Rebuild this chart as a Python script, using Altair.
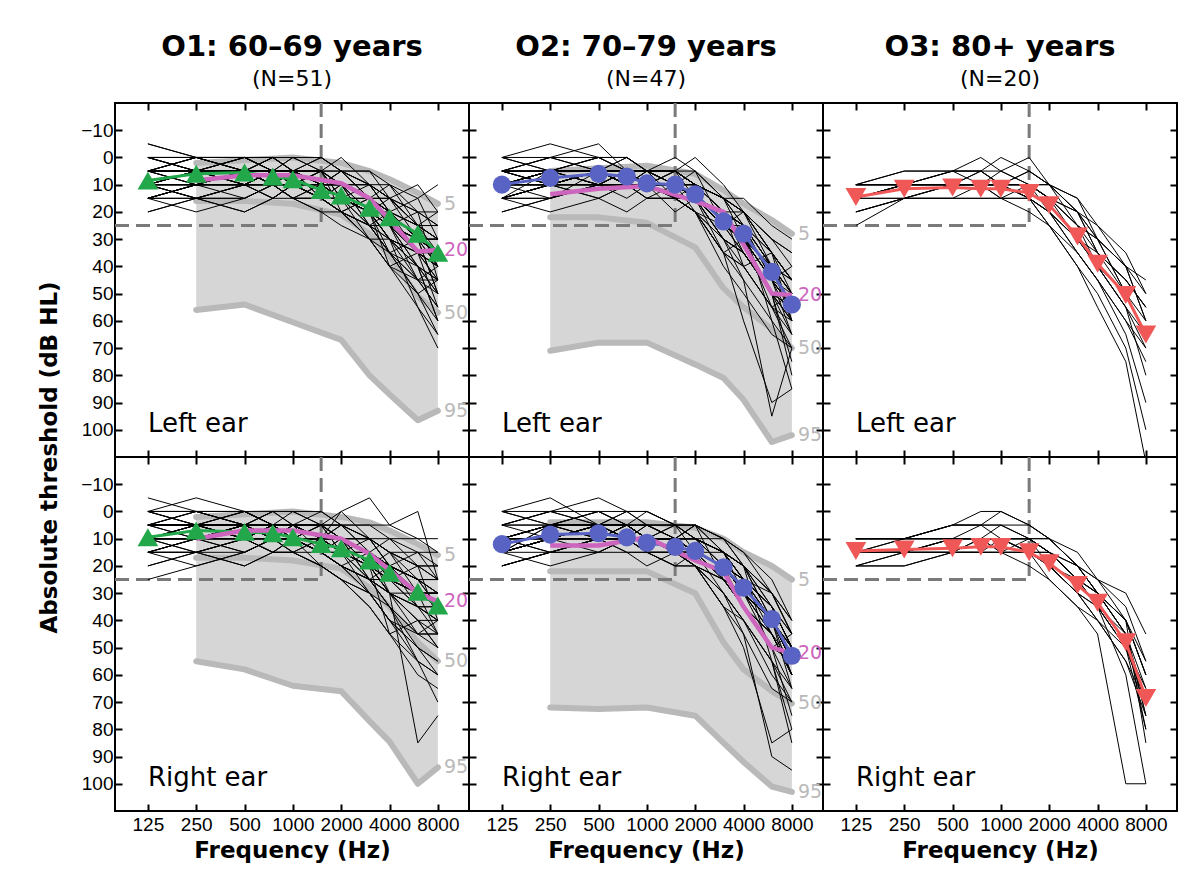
import altair as alt
import pandas as pd

FONT = "DejaVu Sans"
TICK_FONT = "Liberation Sans"

FREQS = [125, 250, 500, 750, 1000, 1500, 2000, 3000, 4000, 6000, 8000]
PCT_FREQS = [250, 500, 1000, 2000, 3000, 4000, 6000, 8000]
X_TICKS = [125, 250, 500, 1000, 2000, 4000, 8000]
Y_TICKS = [-10, 0, 10, 20, 30, 40, 50, 60, 70, 80, 90, 100]
X_DOMAIN = [78, 12500]
Y_DOMAIN = [-20, 110]
CRIT_FREQ = 1500
CRIT_DB = 25
EAR_TEXT_FREQ = 125
EAR_TEXT_DB = 98

GROUP_TITLES = ["O1: 60\u201369 years", "O2: 70\u201379 years", "O3: 80+ years"]
GROUP_N = ["(N=51)", "(N=47)", "(N=20)"]
EAR_LABELS = ["Left ear", "Right ear"]
GROUP_COLORS = ["#22a84a", "#5863c4", "#f05858"]
GROUP_SHAPES = ["triangle-up", "circle", "triangle-down"]
GROUP_SIZES = [430, 330, 430]
PINK = "#cd64be"
FILL_GRAY = "#d6d6d6"
LINE_GRAY = "#b9b9b9"
DASH_GRAY = "#7a7a7a"

# group means (dB HL) at FREQS
MEAN_O1_L = [8.5, 6, 5.5, 7, 8, 12, 14, 18.5, 22, 28, 35]
MEAN_O1_R = [9.5, 7, 7.5, 8, 9.5, 12, 13.5, 18, 22.5, 29.5, 34.5]
MEAN_O2_L = [10, 7.5, 6, 7, 9.5, 10, 13.5, 23.5, 28, 42, 54]
MEAN_O2_R = [12, 8.5, 8, 9.5, 11.5, 13, 14.5, 20.5, 28, 39.5, 53]
MEAN_O3_L = [14.5, 11.5, 11, 11.5, 11.5, 13, 17.5, 29, 39, 50.5, 65]
MEAN_O3_R = [14.5, 14, 13.5, 13, 13, 15, 19, 27, 33.5, 48, 68.5]

# reference percentile curves at PCT_FREQS
P5_O1_L = [2, 1, 0, 2, 5, 8, 13, 17]
P20_O1_L = [8.5, 6.5, 6.5, 9.5, 15, 23, 34.5, 34]
P50_O1_L = [16, 16, 17, 21, 28, 36, 51, 57]
P95_O1_L = [56, 54, 60.5, 67, 80, 87, 96.5, 93]

P5_O1_R = [2, 1, 0, 2, 4, 7, 12, 16]
P20_O1_R = [10, 7, 7, 10, 15.5, 21.5, 30, 33]
P50_O1_R = [17, 17, 18, 21, 28, 35, 48, 55]
P95_O1_R = [55, 58, 64, 66, 77, 84.5, 100, 94]

P5_O2_L = [5, 4, 3, 6, 12, 17, 23, 28]
P20_O2_L = [13.5, 11.5, 10.5, 16, 20, 32, 50, 50.5]
P50_O2_L = [22, 22, 24, 33, 48, 55, 63, 70]
P95_O2_L = [71, 68, 68, 76, 81, 89, 104.5, 102]

P5_O2_R = [4, 4, 4, 6, 10, 15, 20, 25]
P20_O2_R = [12.5, 12.5, 9.5, 18, 22, 35, 50, 52]
P50_O2_R = [22, 22, 22, 30, 48, 58, 66, 70.5]
P95_O2_R = [72, 72.5, 72, 75, 85, 92, 101, 103]

# individual audiograms (dB HL at FREQS)
IND_O1_L = [
    [10, 5, 5, 5, 5, 10, 10, 15, 20, 30, 35], [5, 5, 0, 5, 5, 5, 10, 10, 15, 25, 30],
    [15, 10, 10, 10, 15, 15, 20, 25, 30, 40, 45], [0, 0, 5, 5, 0, 5, 5, 10, 20, 25, 30],
    [10, 10, 5, 10, 10, 15, 15, 25, 35, 45, 55], [5, 0, 0, 0, 5, 0, 5, 10, 10, 20, 25],
    [20, 15, 10, 10, 10, 15, 15, 20, 25, 35, 40], [10, 10, 10, 5, 10, 10, 15, 20, 30, 40, 50],
    [-5, 0, 0, 5, 5, 5, 10, 15, 15, 20, 20], [10, 15, 10, 10, 5, 10, 10, 15, 25, 35, 35],
    [5, 5, 5, 0, 5, 10, 15, 20, 25, 30, 30], [15, 15, 15, 10, 15, 20, 20, 30, 40, 50, 60],
    [10, 5, 5, 5, 10, 10, 10, 15, 15, 25, 25], [5, 10, 5, 5, 5, 5, 5, 15, 20, 30, 40],
    [10, 10, 10, 15, 10, 15, 20, 25, 25, 30, 35], [0, 5, 5, 5, 5, 0, 5, 5, 10, 15, 10],
    [10, 5, 0, 5, 10, 10, 15, 20, 30, 45, 50], [15, 10, 10, 10, 10, 10, 15, 25, 35, 45, 45],
    [5, 5, 10, 10, 5, 10, 5, 10, 15, 25, 35], [10, 10, 10, 10, 10, 15, 15, 20, 30, 35, 40],
    [5, 0, 5, 10, 10, 15, 20, 30, 35, 40, 45], [10, 15, 15, 10, 10, 10, 15, 15, 20, 30, 30],
    [0, 0, 0, 0, 5, 5, 10, 10, 15, 20, 25], [10, 5, 10, 5, 5, 10, 10, 20, 25, 40, 50],
    [15, 10, 5, 10, 15, 15, 20, 25, 30, 35, 40], [5, 10, 10, 5, 10, 5, 10, 15, 20, 30, 35],
    [10, 10, 5, 5, 5, 10, 15, 20, 25, 40, 60], [5, 5, 5, 10, 10, 10, 10, 15, 25, 30, 30],
    [10, 10, 10, 10, 5, 15, 20, 25, 35, 50, 65], [15, 10, 10, 5, 10, 10, 10, 20, 25, 30, 40],
    [5, 5, 0, 5, 5, 10, 10, 10, 20, 25, 30], [10, 5, 5, 5, 10, 15, 15, 20, 30, 35, 45],
    [0, 5, 5, 5, 5, 5, 10, 15, 20, 25, 30], [10, 10, 10, 10, 15, 15, 20, 30, 40, 55, 70],
    [5, 5, 10, 5, 5, 5, 15, 15, 25, 35, 40], [15, 15, 10, 10, 10, 10, 15, 20, 20, 30, 35],
    [0, 5, 0, 5, 0, 5, 0, 10, 15, 25, 40], [15, 10, 15, 10, 15, 10, 15, 20, 35, 30, 50],
    [5, 0, 5, 0, 5, 10, 5, 15, 10, 25, 20], [10, 15, 10, 15, 10, 15, 20, 15, 25, 20, 45],
    [20, 15, 20, 15, 15, 20, 25, 30, 40, 45, 55], [0, 5, 10, 5, 10, 5, 15, 10, 20, 15, 30],
    [10, 5, 10, 15, 10, 5, 10, 25, 20, 35, 45], [5, 10, 5, 10, 15, 10, 5, 15, 25, 45, 40],
    [15, 20, 15, 10, 5, 10, 15, 30, 30, 55, 65], [-5, 0, 5, 0, 0, 0, 5, 5, 15, 10, 20],
    [10, 15, 20, 15, 10, 15, 10, 20, 40, 35, 55], [5, 0, 0, 5, 10, 5, 15, 20, 15, 30, 35],
    [15, 10, 5, 10, 5, 15, 10, 25, 35, 50, 45], [0, 0, 5, 10, 5, 10, 10, 20, 30, 40, 60],
    [10, 5, 5, 0, 5, 5, 20, 15, 25, 30, 50],
]
IND_O1_R = [
    [5, 5, 5, 5, 10, 10, 15, 20, 25, 30, 35], [10, 10, 5, 5, 5, 10, 10, 15, 20, 25, 30],
    [15, 10, 10, 10, 10, 15, 20, 25, 30, 40, 40], [0, 0, 0, 5, 5, 5, 10, 10, 15, 20, 25],
    [10, 5, 10, 10, 10, 15, 20, 30, 40, 50, 55], [5, 5, 0, 5, 5, 5, 5, 10, 15, 20, 20],
    [20, 15, 15, 10, 10, 15, 20, 25, 30, 35, 35], [10, 10, 5, 10, 10, 10, 15, 25, 35, 45, 45],
    [5, 0, 0, 0, 0, 5, 5, 10, 10, 15, 15], [10, 10, 10, 5, 10, 10, 10, 15, 25, 30, 30],
    [5, 5, 5, 5, 5, 10, 15, 20, 25, 35, 40], [15, 15, 10, 15, 15, 20, 25, 35, 45, 55, 60],
    [10, 5, 5, 10, 10, 10, 10, 15, 20, 25, 25], [5, 5, 5, 5, 5, 5, 5, 10, 20, 25, 30],
    [10, 10, 10, 10, 10, 15, 20, 25, 25, 30, 30], [0, -5, 0, 5, 5, 0, 5, 5, 5, 10, 10],
    [10, 10, 5, 10, 10, 15, 20, 25, 35, 50, 60], [15, 10, 10, 10, 10, 15, 15, 20, 30, 40, 45],
    [5, 5, 10, 10, 10, 10, 10, 15, 20, 30, 35], [10, 10, 10, 10, 10, 10, 15, 20, 25, 30, 35],
    [5, 5, 5, 10, 10, 15, 20, 30, 40, 45, 50], [10, 10, 15, 10, 10, 10, 15, 15, 20, 25, 25],
    [0, 0, 5, 0, 5, 5, 10, 10, 15, 15, 20], [10, 5, 10, 5, 10, 10, 10, 20, 25, 35, 45],
    [15, 15, 10, 10, 15, 15, 20, 25, 30, 35, 35], [5, 10, 10, 5, 10, 10, 10, 15, 20, 25, 30],
    [10, 10, 5, 10, 5, 10, 15, 20, 30, 85, 75], [5, 5, 5, 10, 10, 10, 10, 15, 25, 30, 30],
    [10, 10, 10, 10, 10, 20, 25, 30, 40, 55, 70], [25, 20, 15, 10, 10, 10, 10, 15, 20, 25, 35],
    [5, 5, 0, 5, 5, 10, 10, 10, 15, 20, 25], [10, 10, 5, 5, 10, 15, 15, 25, 30, 35, 40],
    [0, 5, 5, 5, 5, 5, 10, 10, 20, 25, 25], [10, 10, 10, 15, 15, 20, 25, 35, 45, 60, 65],
    [5, 5, 10, 5, 5, 5, 10, 15, 25, 30, 35], [15, 15, 10, 10, 10, 10, 15, 15, 20, 30, 30],
    [0, 5, 0, 5, 0, 5, 0, 10, 15, 25, 35], [15, 10, 15, 10, 15, 10, 15, 20, 30, 30, 45],
    [5, 0, 5, 0, 5, 10, 5, 15, 10, 20, 20], [10, 15, 10, 15, 10, 15, 20, 15, 25, 20, 40],
    [20, 15, 20, 15, 15, 20, 25, 30, 40, 50, 55], [0, 5, 10, 5, 10, 5, 15, 10, 20, 15, 25],
    [10, 5, 10, 15, 10, 5, 10, 25, 20, 35, 40], [5, 10, 5, 10, 15, 10, 5, 15, 30, 45, 45],
    [15, 20, 15, 10, 5, 10, 15, 30, 35, 55, 60], [-5, 0, 5, 0, 0, 0, 5, 5, 10, 10, 15],
    [10, 15, 20, 15, 10, 15, 10, 20, 45, 40, 50], [5, 0, 0, 5, 10, 5, 15, 20, 15, 30, 30],
    [15, 10, 5, 10, 5, 15, 10, 25, 35, 45, 40], [0, 0, 5, 10, 5, 10, 10, 20, 30, 40, 50],
    [10, 5, 5, 10, 5, 10, 0, -5, 5, 0, 25],
]
IND_O2_L = [
    [10, 5, 5, 5, 10, 10, 15, 25, 30, 45, 55], [5, 5, 5, 0, 5, 5, 10, 20, 25, 40, 50],
    [15, 10, 10, 10, 10, 15, 15, 30, 35, 50, 60], [10, 10, 5, 10, 10, 10, 15, 25, 30, 40, 55],
    [0, 0, -5, 5, 5, 5, 10, 15, 20, 35, 50], [10, 10, 10, 5, 10, 15, 20, 35, 40, 55, 65],
    [15, 10, 5, 5, 5, 5, 10, 20, 25, 35, 45], [10, 5, 5, 10, 10, 10, 10, 20, 25, 40, 55],
    [5, 0, 0, 0, 5, 5, 10, 15, 20, 30, 35], [10, 10, 10, 10, 15, 15, 20, 30, 35, 50, 60],
    [15, 15, 10, 10, 10, 10, 15, 25, 25, 40, 50], [5, 10, 5, 5, 5, 10, 10, 20, 30, 45, 55],
    [10, 5, 0, 5, 10, 15, 15, 25, 30, 40, 45], [20, 15, 10, 10, 10, 10, 15, 30, 40, 55, 70],
    [10, 5, 5, 5, 5, 5, 5, 15, 15, 25, 30], [5, 5, 10, 10, 10, 10, 15, 20, 25, 40, 50],
    [10, 10, 5, 5, 10, 15, 20, 35, 45, 95, 70], [15, 10, 10, 10, 10, 10, 15, 25, 30, 45, 55],
    [5, 5, 5, 10, 5, 5, 10, 15, 20, 35, 45], [10, 10, 5, 5, 10, 10, 15, 25, 30, 40, 60],
    [10, 5, 5, 5, 5, 10, 15, 20, 25, 45, 55], [0, 5, 0, 5, 5, 5, 10, 20, 30, 40, 50],
    [15, 10, 10, 5, 10, 15, 15, 25, 30, 50, 65], [10, 10, 10, 10, 10, 10, 10, 15, 20, 30, 40],
    [5, 0, 5, 5, 10, 10, 15, 30, 35, 50, 55], [10, 5, 5, 10, 10, 15, 20, 25, 30, 45, 50],
    [15, 15, 10, 10, 15, 15, 20, 35, 40, 55, 60], [10, 10, 5, 5, 5, 5, 10, 20, 25, 35, 45],
    [5, 5, 5, 5, 5, 10, 10, 15, 25, 40, 50], [10, 5, 10, 10, 10, 10, 15, 30, 35, 50, 75],
    [15, 10, 5, 5, 5, 10, 10, 20, 20, 35, 45], [5, 5, 5, 10, 10, 10, 15, 25, 30, 45, 60],
    [10, 10, 10, 5, 5, 5, 10, 15, 20, 30, 35], [10, 5, 5, 10, 10, 15, 20, 35, 60, 90, 85],
    [5, 10, 5, 5, 10, 10, 15, 25, 30, 45, 55], [15, 10, 10, 10, 10, 15, 15, 25, 35, 50, 55],
    [0, 5, 0, 5, 10, 5, 10, 20, 35, 50, 60], [10, 15, 5, 10, 5, 10, 5, 25, 20, 40, 45],
    [5, 0, 5, 0, 5, 0, 5, 15, 30, 45, 65], [15, 20, 15, 20, 15, 15, 20, 30, 45, 60, 70],
    [10, 5, 10, 5, 10, 5, 15, 35, 30, 55, 50], [5, 10, 15, 10, 5, 10, 15, 20, 40, 35, 60],
    [20, 15, 10, 15, 10, 20, 15, 25, 35, 50, 80], [0, -5, 0, 0, 5, 5, 0, 10, 20, 35, 45],
    [10, 10, 15, 10, 15, 10, 20, 40, 50, 65, 70], [15, 5, 10, 5, 5, 15, 10, 20, 25, 45, 40],
    [5, 10, 5, 10, 10, 5, 10, 15, 25, 60, 85],
]
IND_O2_R = [
    [10, 5, 5, 5, 10, 10, 15, 20, 30, 40, 55], [15, 10, 10, 10, 10, 15, 15, 20, 25, 35, 50],
    [0, 0, -5, 0, 5, 10, 10, 15, 25, 40, 55], [15, 10, 10, 10, 15, 15, 20, 25, 35, 45, 60],
    [10, 5, 5, 5, 5, 10, 10, 15, 20, 30, 45], [20, 15, 10, 10, 15, 20, 20, 30, 40, 55, 65],
    [5, 0, 0, 5, 5, 5, 10, 15, 20, 35, 50], [10, 10, 10, 10, 10, 10, 10, 20, 30, 40, 55],
    [15, 10, 5, 5, 10, 10, 15, 15, 20, 30, 40], [10, 10, 10, 15, 15, 15, 20, 25, 35, 45, 60],
    [20, 15, 10, 10, 10, 15, 15, 20, 30, 40, 50], [0, 5, 0, 5, 5, 10, 10, 15, 25, 35, 50],
    [10, 10, 10, 10, 15, 15, 15, 25, 30, 40, 55], [15, 10, 5, 5, 10, 10, 10, 20, 25, 45, 60],
    [5, 0, 5, 0, 5, 5, 5, 10, 20, 30, 45], [10, 10, 10, 10, 10, 15, 15, 20, 30, 40, 55],
    [15, 10, 10, 10, 15, 20, 20, 30, 45, 90, 95], [10, 10, 10, 10, 10, 10, 15, 20, 25, 35, 50],
    [15, 5, 5, 10, 10, 10, 10, 15, 25, 40, 50], [10, 10, 10, 5, 10, 10, 15, 20, 30, 40, 60],
    [15, 10, 5, 5, 10, 15, 15, 25, 30, 45, 55], [10, 5, 5, 10, 10, 10, 10, 15, 25, 35, 50],
    [15, 15, 10, 10, 10, 15, 15, 25, 35, 50, 65], [5, 5, 0, 0, 0, 5, 5, 10, 15, 25, 40],
    [15, 5, 5, 5, 10, 10, 15, 20, 30, 40, 55], [10, 10, 5, 10, 10, 15, 20, 25, 30, 40, 50],
    [20, 15, 15, 10, 15, 15, 20, 30, 40, 55, 70], [10, 5, 5, 5, 10, 10, 15, 20, 25, 35, 45],
    [15, 10, 10, 5, 10, 10, 10, 15, 20, 40, 55], [10, 5, 10, 10, 10, 10, 15, 25, 35, 50, 75],
    [15, 10, 5, 5, 10, 10, 10, 15, 20, 35, 45], [10, 10, 10, 10, 10, 10, 15, 20, 30, 45, 60],
    [15, 10, 5, 5, 5, 5, 10, 15, 25, 30, 40], [10, 5, 5, 10, 10, 15, 20, 35, 50, 85, 80],
    [10, 10, 5, 5, 10, 10, 15, 20, 30, 40, 55], [15, 10, 10, 10, 10, 15, 15, 25, 35, 45, 60],
    [5, 0, 5, 10, 5, 10, 5, 15, 30, 45, 60], [10, 15, 10, 5, 10, 5, 15, 20, 25, 40, 50],
    [0, 5, 0, 5, 0, 5, 10, 10, 20, 40, 65], [15, 20, 15, 15, 20, 15, 20, 35, 40, 60, 70],
    [10, 5, 10, 5, 10, 10, 5, 25, 35, 50, 55], [5, 10, 15, 10, 10, 5, 10, 20, 35, 45, 60],
    [20, 15, 10, 15, 15, 20, 15, 30, 40, 55, 80], [0, -5, 5, 0, 0, 5, 5, 10, 15, 30, 45],
    [10, 15, 15, 10, 10, 15, 20, 35, 45, 65, 70], [15, 10, 5, 10, 5, 10, 15, 20, 30, 50, 45],
    [5, 5, 10, 5, 10, 10, 5, 15, 20, 55, 85],
]
IND_O3_L = [
    [10, 10, 5, 5, 5, 0, 10, 20, 35, 45, 55], [15, 10, 5, 0, 5, 10, 15, 25, 35, 50, 65],
    [20, 15, 10, 10, 10, 5, 10, 20, 30, 40, 50], [10, 5, 5, 5, 0, 5, 10, 25, 40, 55, 70],
    [15, 10, 10, 5, 10, 10, 15, 30, 40, 50, 60], [25, 15, 15, 10, 10, 15, 20, 35, 45, 60, 75],
    [10, 10, 10, 10, 15, 15, 20, 30, 40, 55, 65], [15, 15, 10, 10, 5, 10, 15, 25, 30, 40, 45],
    [10, 10, 5, 10, 10, 10, 20, 35, 45, 65, 90], [15, 10, 10, 10, 10, 15, 20, 30, 35, 45, 55],
    [10, 5, 5, 5, 10, 5, 10, 15, 30, 50, 65], [20, 15, 15, 15, 15, 15, 20, 30, 40, 55, 80],
    [10, 10, 10, 10, 10, 10, 15, 20, 25, 40, 60], [15, 10, 10, 5, 10, 15, 25, 40, 55, 75, 112],
    [10, 10, 10, 10, 10, 10, 10, 15, 25, 35, 50], [15, 15, 10, 10, 15, 20, 25, 35, 45, 60, 70],
    [10, 10, 10, 10, 10, 10, 15, 20, 30, 50, 65], [15, 10, 10, 10, 10, 15, 25, 40, 50, 70, 100],
    [10, 10, 10, 10, 10, 10, 10, 20, 35, 45, 55], [20, 15, 15, 15, 15, 10, 15, 25, 30, 40, 60],
]
IND_O3_R = [
    [10, 10, 5, 5, 5, 10, 10, 20, 25, 35, 55], [15, 15, 10, 10, 10, 10, 15, 25, 30, 45, 70],
    [20, 15, 15, 15, 10, 15, 20, 30, 40, 55, 75], [10, 10, 5, 0, 0, 5, 10, 20, 30, 40, 60],
    [15, 15, 10, 10, 10, 15, 20, 30, 35, 50, 80], [20, 20, 15, 15, 15, 10, 15, 25, 30, 45, 65],
    [10, 10, 10, 10, 10, 10, 20, 30, 35, 50, 70], [15, 10, 10, 5, 10, 15, 15, 25, 35, 60, 100],
    [10, 10, 5, 5, 0, 5, 10, 20, 25, 30, 45], [15, 15, 15, 15, 15, 15, 20, 25, 30, 40, 60],
    [10, 10, 10, 10, 10, 10, 15, 25, 35, 45, 75], [20, 15, 15, 10, 15, 15, 20, 30, 40, 55, 70],
    [15, 15, 10, 10, 10, 15, 15, 20, 30, 45, 80], [10, 10, 10, 10, 5, 5, 10, 20, 30, 40, 55],
    [20, 20, 15, 15, 15, 20, 25, 35, 40, 50, 70], [15, 15, 10, 10, 10, 10, 15, 25, 30, 45, 75],
    [10, 10, 5, 5, 5, 10, 10, 15, 25, 40, 60], [15, 15, 15, 10, 15, 15, 25, 35, 45, 100, 100],
    [10, 10, 10, 10, 10, 10, 15, 25, 35, 50, 65], [15, 10, 10, 10, 10, 10, 15, 20, 30, 40, 85],
]

INDIV = {(0, 0): IND_O1_L, (0, 1): IND_O1_R, (1, 0): IND_O2_L,
         (1, 1): IND_O2_R, (2, 0): IND_O3_L, (2, 1): IND_O3_R}
MEANS = {(0, 0): MEAN_O1_L, (0, 1): MEAN_O1_R, (1, 0): MEAN_O2_L,
         (1, 1): MEAN_O2_R, (2, 0): MEAN_O3_L, (2, 1): MEAN_O3_R}
PCTS = {
    (0, 0): (P5_O1_L, P20_O1_L, P50_O1_L, P95_O1_L),
    (0, 1): (P5_O1_R, P20_O1_R, P50_O1_R, P95_O1_R),
    (1, 0): (P5_O2_L, P20_O2_L, P50_O2_L, P95_O2_L),
    (1, 1): (P5_O2_R, P20_O2_R, P50_O2_R, P95_O2_R),
}

PANEL = 354
TICK = 7
XS = alt.Scale(type="log", domain=X_DOMAIN, nice=False)
YS = alt.Scale(domain=Y_DOMAIN, reverse=True, nice=False, zero=False)


def xenc(field, axis=None):
    return alt.X(field, scale=XS, axis=axis)


def yenc(field, axis=None):
    return alt.Y(field, scale=YS, axis=axis)


def make_panel(g, e):
    bottom_row = e == 1
    left_col = g == 0

    bkw = dict(orient="bottom", values=X_TICKS, offset=-TICK, tickSize=TICK,
               labels=bottom_row, format="d", labelOverlap=False, labelPadding=4,
               labelFontSize=19, labelFont=TICK_FONT)
    if bottom_row:
        bkw.update(title="Frequency (Hz)", titleFontSize=23, titleFontWeight="bold",
                   titlePadding=5)
    else:
        bkw.update(title=None)
    lkw = dict(orient="left", values=Y_TICKS, offset=-TICK, tickSize=TICK,
               labels=left_col, labelOverlap=False, labelPadding=2, labelFontSize=19,
               labelFont=TICK_FONT)
    if left_col and bottom_row:
        lkw.update(title="Absolute threshold (dB HL)", titleFontSize=23,
                   titleFontWeight="bold", titleY=0, titlePadding=19)
    else:
        lkw.update(title=None)
    tkw = dict(orient="top", values=X_TICKS, offset=-TICK, tickSize=TICK,
               labels=False, title=None)
    rkw = dict(orient="right", values=Y_TICKS, offset=-TICK, tickSize=TICK,
               labels=False, title=None)

    df_ind = pd.DataFrame([
        {"id": i, "freq": f, "db": v}
        for i, vals in enumerate(INDIV[(g, e)]) for f, v in zip(FREQS, vals)
    ])
    df_mean = pd.DataFrame({"freq": FREQS, "db": MEANS[(g, e)]})

    layers = []
    if (g, e) in PCTS:
        p5, p20, p50, p95 = PCTS[(g, e)]
        df_band = pd.DataFrame({"freq": PCT_FREQS, "lo": p5, "hi": p95})
        layers.append(
            alt.Chart(df_band).mark_area(color=FILL_GRAY, opacity=1).encode(
                x=xenc("freq:Q"), y=yenc("lo:Q"), y2="hi:Q"))
        rows = []
        for name, vals in (("5", p5), ("50", p50), ("95", p95)):
            for f, v in zip(PCT_FREQS, vals):
                rows.append({"freq": f, "db": v, "pct": name})
        layers.append(
            alt.Chart(pd.DataFrame(rows)).mark_line(
                color=LINE_GRAY, strokeWidth=6, strokeCap="round", strokeJoin="round"
            ).encode(x=xenc("freq:Q"), y=yenc("db:Q"), detail="pct:N"))

    df_h = pd.DataFrame({"f1": [X_DOMAIN[0]], "f2": [CRIT_FREQ], "db": [CRIT_DB]})
    df_v = pd.DataFrame({"f": [CRIT_FREQ], "d1": [Y_DOMAIN[0]], "d2": [CRIT_DB]})
    layers.append(alt.Chart(df_h).mark_rule(color=DASH_GRAY, strokeWidth=3, strokeDash=[14, 7]).encode(
        x=xenc("f1:Q"), x2="f2:Q", y=yenc("db:Q")))
    layers.append(alt.Chart(df_v).mark_rule(color=DASH_GRAY, strokeWidth=3, strokeDash=[14, 7]).encode(
        x=xenc("f:Q"), y=yenc("d1:Q"), y2="d2:Q"))

    layers.append(
        alt.Chart(df_ind).mark_line(color="black", strokeWidth=1, clip=True).encode(
            x=xenc("freq:Q", alt.Axis(**bkw)), y=yenc("db:Q", alt.Axis(**lkw)),
            detail="id:N"))

    color = GROUP_COLORS[g]
    layers.append(alt.Chart(df_mean).mark_line(color=color, strokeWidth=3).encode(
        x=xenc("freq:Q"), y=yenc("db:Q")))

    if (g, e) in PCTS:
        p5, p20, p50, p95 = PCTS[(g, e)]
        df_p20 = pd.DataFrame({"freq": PCT_FREQS, "db": p20})
        layers.append(alt.Chart(df_p20).mark_line(
            color=PINK, strokeWidth=4.5, strokeJoin="round").encode(
            x=xenc("freq:Q"), y=yenc("db:Q")))

    layers.append(alt.Chart(df_mean).mark_point(
        shape=GROUP_SHAPES[g], filled=True, size=GROUP_SIZES[g], color=color, opacity=1
    ).encode(x=xenc("freq:Q", alt.Axis(**tkw)), y=yenc("db:Q", alt.Axis(**rkw))))

    if (g, e) in PCTS:
        p5, p20, p50, p95 = PCTS[(g, e)]
        df_lab = pd.DataFrame({
            "freq": [PCT_FREQS[-1]] * 4,
            "db": [p5[-1], p20[-1], p50[-1], p95[-1]],
            "txt": ["5", "20", "50", "95"],
            "col": [LINE_GRAY, PINK, LINE_GRAY, LINE_GRAY],
        })
        layers.append(alt.Chart(df_lab).mark_text(
            align="left", baseline="middle", dx=6, fontSize=19, font=FONT
        ).encode(x=xenc("freq:Q"), y=yenc("db:Q"), text="txt:N",
                 color=alt.Color("col:N", scale=None)))

    df_ear = pd.DataFrame({"freq": [EAR_TEXT_FREQ], "db": [EAR_TEXT_DB], "txt": [EAR_LABELS[e]]})
    layers.append(alt.Chart(df_ear).mark_text(
        align="left", baseline="middle", fontSize=26, font=FONT, color="black"
    ).encode(x=xenc("freq:Q"), y=yenc("db:Q"), text="txt:N"))

    props = dict(width=PANEL, height=PANEL)
    if not bottom_row:
        props["title"] = alt.TitleParams(text=GROUP_TITLES[g], subtitle=GROUP_N[g])
    return alt.layer(*layers).resolve_axis(x="independent", y="independent").properties(**props)


panels = [make_panel(g, e) for e in (0, 1) for g in (0, 1, 2)]

chart = alt.concat(*panels, columns=3, spacing=0, bounds="flush").properties(
    padding={"left": 29, "top": 23, "right": 5, "bottom": 5}
).configure_view(
    stroke="black", strokeWidth=2
).configure_axis(
    domain=False, grid=False, tickColor="black", tickWidth=2,
    labelColor="black", labelFont=FONT, titleFont=FONT, titleColor="black"
).configure_title(
    font=FONT, fontSize=29, fontWeight="bold", color="black", anchor="middle",
    subtitleFont=FONT, subtitleFontSize=22, subtitleColor="black",
    subtitlePadding=7, offset=12
)

chart.save("out.html", embed_options={"renderer": "svg", "actions": False})
